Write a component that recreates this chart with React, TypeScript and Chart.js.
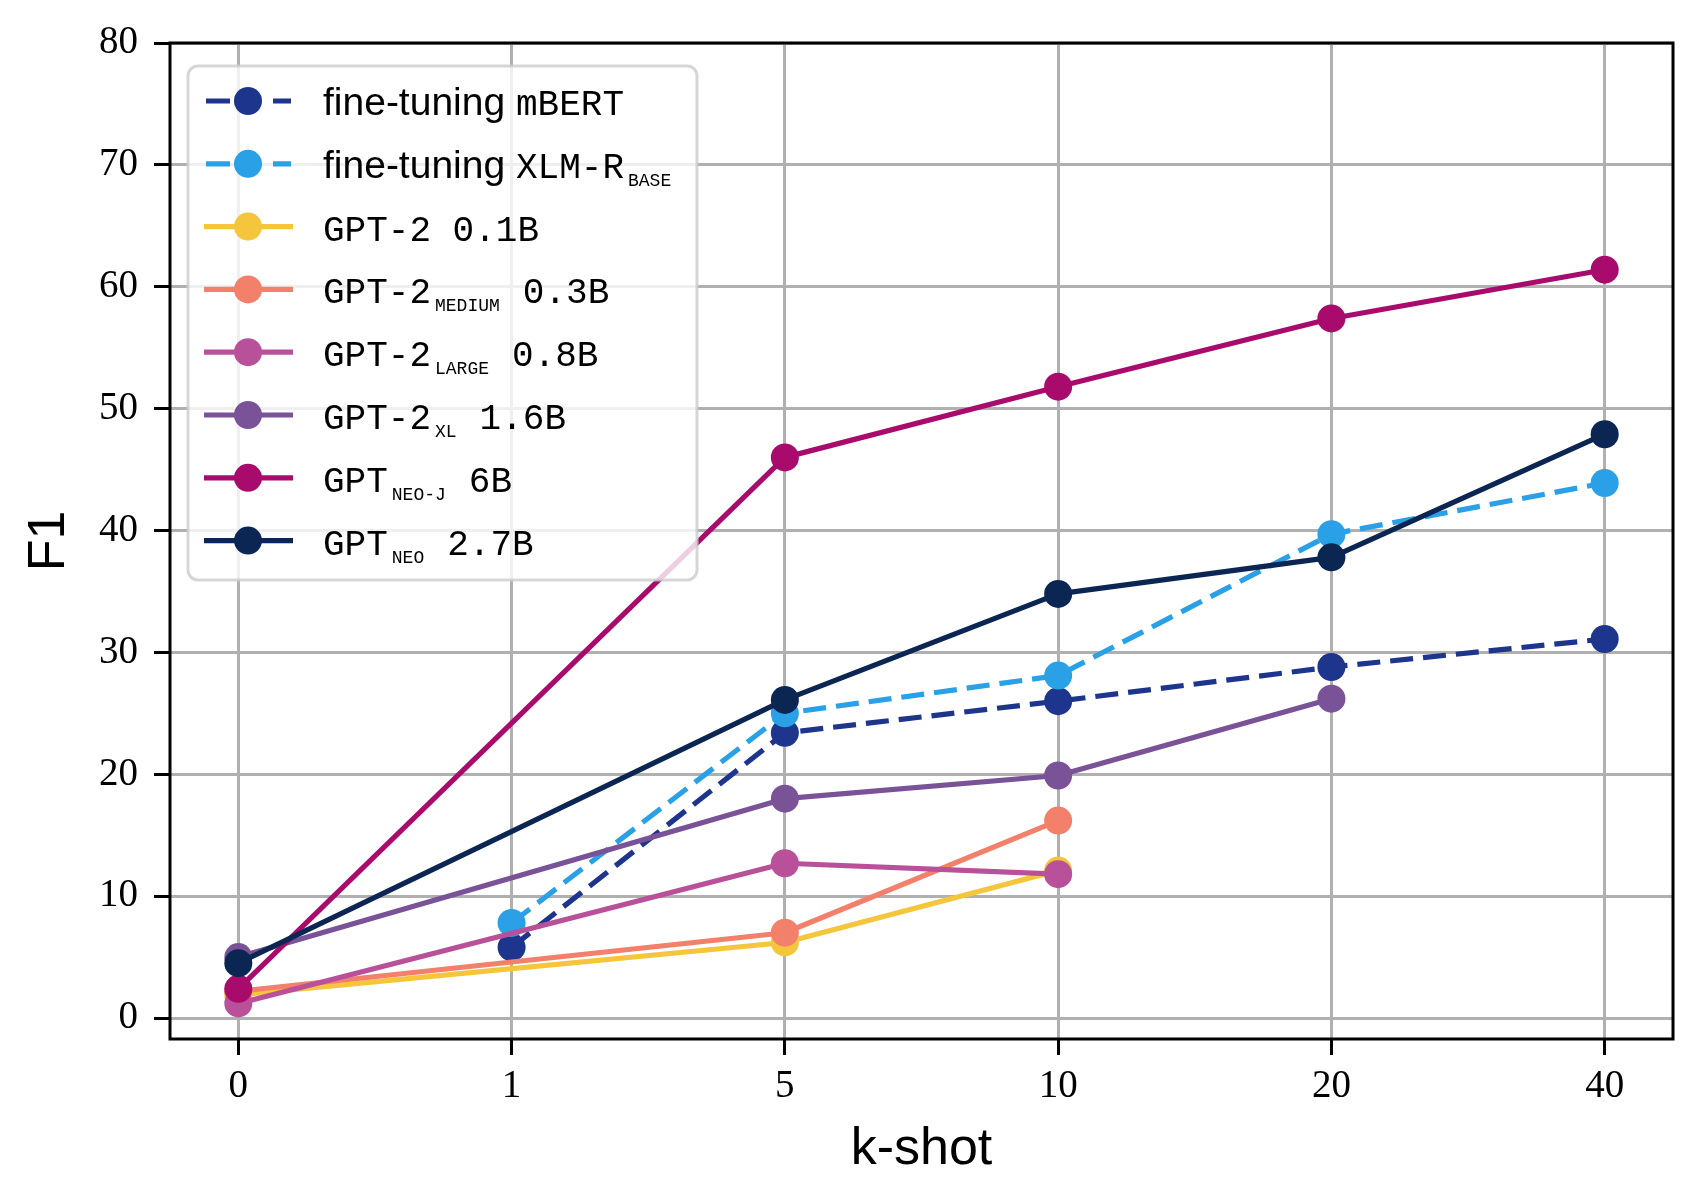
import React, { useEffect, useRef } from 'react';
import { Chart, registerables } from 'chart.js';

Chart.register(...registerables);

// ---- Data ----
const kShots = ['0', '1', '5', '10', '20', '40'];
const yTickValues = [0, 10, 20, 30, 40, 50, 60, 70, 80];

const mbertF1 = [null, 5.8, 23.4, 26.0, 28.8, 31.1];
const xlmrF1 = [null, 7.8, 25.0, 28.1, 39.7, 43.9];
const gpt2SmallF1 = [1.9, null, 6.2, 12.1, null, null];
const gpt2MediumF1 = [2.2, null, 7.0, 16.2, null, null];
const gpt2LargeF1 = [1.2, null, 12.7, 11.8, null, null];
const gpt2XlF1 = [5.0, null, 18.0, 19.9, 26.2, null];
const gptNeoJF1 = [2.4, null, 46.0, 51.8, 57.4, 61.4];
const gptNeoF1 = [4.5, null, 26.1, 34.8, 37.8, 47.9];

const seriesValues = [mbertF1, xlmrF1, gpt2SmallF1, gpt2MediumF1, gpt2LargeF1, gpt2XlF1, gptNeoJF1, gptNeoF1];
const seriesNames = [
  'fine-tuning mBERT',
  'fine-tuning XLM-R BASE',
  'GPT-2 0.1B',
  'GPT-2 MEDIUM 0.3B',
  'GPT-2 LARGE 0.8B',
  'GPT-2 XL 1.6B',
  'GPT NEO-J 6B',
  'GPT NEO 2.7B',
];
const seriesColors = ['#1d358c', '#2aa0e7', '#f5c53c', '#f3806a', '#b9519a', '#7a5298', '#a90b6d', '#0b2652'];
const seriesDashed = [true, true, false, false, false, false, false, false];

// legend label pieces: sans / mono / sub(script)
type Piece = { t: string; f: 'sans' | 'mono' | 'sub' };
const legendPieces: Piece[][] = [
  [{ t: 'fine-tuning ', f: 'sans' }, { t: 'mBERT', f: 'mono' }],
  [{ t: 'fine-tuning ', f: 'sans' }, { t: 'XLM-R', f: 'mono' }, { t: 'BASE', f: 'sub' }],
  [{ t: 'GPT-2 0.1B', f: 'mono' }],
  [{ t: 'GPT-2', f: 'mono' }, { t: 'MEDIUM', f: 'sub' }, { t: '0.3B', f: 'mono' }],
  [{ t: 'GPT-2', f: 'mono' }, { t: 'LARGE', f: 'sub' }, { t: '0.8B', f: 'mono' }],
  [{ t: 'GPT-2', f: 'mono' }, { t: 'XL', f: 'sub' }, { t: '1.6B', f: 'mono' }],
  [{ t: 'GPT', f: 'mono' }, { t: 'NEO-J', f: 'sub' }, { t: '6B', f: 'mono' }],
  [{ t: 'GPT', f: 'mono' }, { t: 'NEO', f: 'sub' }, { t: '2.7B', f: 'mono' }],
];

const FONTS = {
  sans: '39px "Liberation Sans"',
  mono: '36px "Liberation Mono"',
  sub: '18px "Liberation Mono"',
};

const framePlugin = {
  id: 'frame',
  afterDatasetsDraw(chart: any) {
    const { ctx, chartArea } = chart;
    ctx.save();
    ctx.strokeStyle = '#000';
    ctx.lineWidth = 3;
    ctx.strokeRect(chartArea.left, chartArea.top, chartArea.right - chartArea.left, chartArea.bottom - chartArea.top);
    ctx.restore();
  },
};

const legendPlugin = {
  id: 'texLegend',
  afterDraw(chart: any) {
    const { ctx, chartArea } = chart;
    const bx = chartArea.left + 18;
    const by = chartArea.top + 23;
    const bw = 509;
    const bh = 514;
    ctx.save();
    ctx.beginPath();
    ctx.roundRect(bx, by, bw, bh, 10);
    ctx.fillStyle = 'rgba(255,255,255,0.8)';
    ctx.fill();
    ctx.lineWidth = 3;
    ctx.strokeStyle = 'rgba(204,204,204,0.8)';
    ctx.stroke();

    chart.data.datasets.forEach((ds: any, i: number) => {
      const cy = by + 35 + i * 62.8;
      ctx.strokeStyle = ds.borderColor;
      ctx.lineWidth = ds.borderWidth;
      ctx.beginPath();
      if (seriesDashed[i]) {
        ctx.setLineDash([24, 43]);
        ctx.moveTo(bx + 18, cy);
        ctx.lineTo(bx + 103, cy);
      } else {
        ctx.setLineDash([]);
        ctx.moveTo(bx + 16, cy);
        ctx.lineTo(bx + 105, cy);
      }
      ctx.stroke();
      ctx.setLineDash([]);
      ctx.beginPath();
      ctx.arc(bx + 60, cy, ds.pointRadius, 0, Math.PI * 2);
      ctx.fillStyle = ds.borderColor;
      ctx.fill();

      let x = bx + 135;
      const baseY = cy + 14;
      ctx.fillStyle = '#000';
      ctx.textBaseline = 'alphabetic';
      ctx.textAlign = 'left';
      const pieces = legendPieces[i];
      pieces.forEach((p) => {
        ctx.font = FONTS[p.f];
        if (p.f === 'sub') {
          x += 4;
          ctx.fillText(p.t, x, baseY + 8);
          x += ctx.measureText(p.t).width + 23;
        } else {
          ctx.fillText(p.t, x, baseY);
          x += ctx.measureText(p.t).width;
        }
      });
    });
    ctx.restore();
  },
};

export default function App() {
  const canvasRef = useRef<HTMLCanvasElement | null>(null);

  useEffect(() => {
    if (!canvasRef.current) return;
    const n = seriesValues.length;
    const datasets = seriesValues.map((vals, i) => ({
      label: seriesNames[i],
      data: vals
        .map((v, idx) => (v === null ? null : { x: idx, y: v }))
        .filter((p) => p !== null),
      borderColor: seriesColors[i],
      backgroundColor: seriesColors[i],
      pointBackgroundColor: seriesColors[i],
      pointBorderColor: seriesColors[i],
      pointBorderWidth: 0,
      pointRadius: 14,
      pointHoverRadius: 14,
      borderWidth: 5.2,
      borderDash: seriesDashed[i] ? [23, 10] : [],
      borderJoinStyle: 'round' as const,
      tension: 0,
      fill: false,
      order: n - i,
    }));

    const chart = new Chart(canvasRef.current, {
      type: 'line',
      data: { datasets: datasets as any },
      plugins: [framePlugin, legendPlugin],
      options: {
        animation: false,
        responsive: false,
        devicePixelRatio: 1,
        layout: { padding: { top: 43, right: 30, bottom: 0, left: 0 } },
        plugins: {
          legend: { display: false },
          tooltip: { enabled: false },
        },
        scales: {
          x: {
            type: 'linear',
            min: -0.25,
            max: 5.25,
            afterFit: (scale: any) => {
              scale.height = 165;
            },
            afterBuildTicks: (scale: any) => {
              scale.ticks = kShots.map((_, i) => ({ value: i }));
            },
            ticks: {
              callback: (v: any) => kShots[Math.round(Number(v))] ?? '',
              font: { family: 'Liberation Serif', size: 39 },
              color: '#000',
              padding: 8,
              maxRotation: 0,
              autoSkip: false,
            },
            grid: {
              color: '#b0b0b0',
              lineWidth: 3,
              tickColor: '#000',
              tickLength: 16,
              tickWidth: 3,
            },
            border: { display: false },
            title: {
              display: true,
              text: 'k-shot',
              font: { family: 'Liberation Sans', size: 52 },
              color: '#000',
              padding: { top: 0, bottom: 23 },
            },
          },
          y: {
            type: 'linear',
            min: -1.72,
            max: 80,
            afterFit: (scale: any) => {
              scale.width = 170;
            },
            afterBuildTicks: (scale: any) => {
              scale.ticks = yTickValues.map((v) => ({ value: v }));
            },
            ticks: {
              font: { family: 'Liberation Serif', size: 39 },
              color: '#000',
              padding: 16,
              autoSkip: false,
            },
            grid: {
              color: '#b0b0b0',
              lineWidth: 3,
              tickColor: '#000',
              tickLength: 16,
              tickWidth: 3,
            },
            border: { display: false },
            title: {
              display: true,
              text: 'F1',
              font: { family: 'Liberation Sans', size: 52 },
              color: '#000',
              padding: { top: 18, bottom: 0 },
            },
          },
        },
      },
    });
    return () => chart.destroy();
  }, []);

  return (
    <div style={{ position: 'fixed', left: 0, top: 0, width: 1703, height: 1204, background: '#fff' }}>
      <canvas ref={canvasRef} width={1703} height={1204} style={{ display: 'block', width: 1703, height: 1204 }} />
    </div>
  );
}
